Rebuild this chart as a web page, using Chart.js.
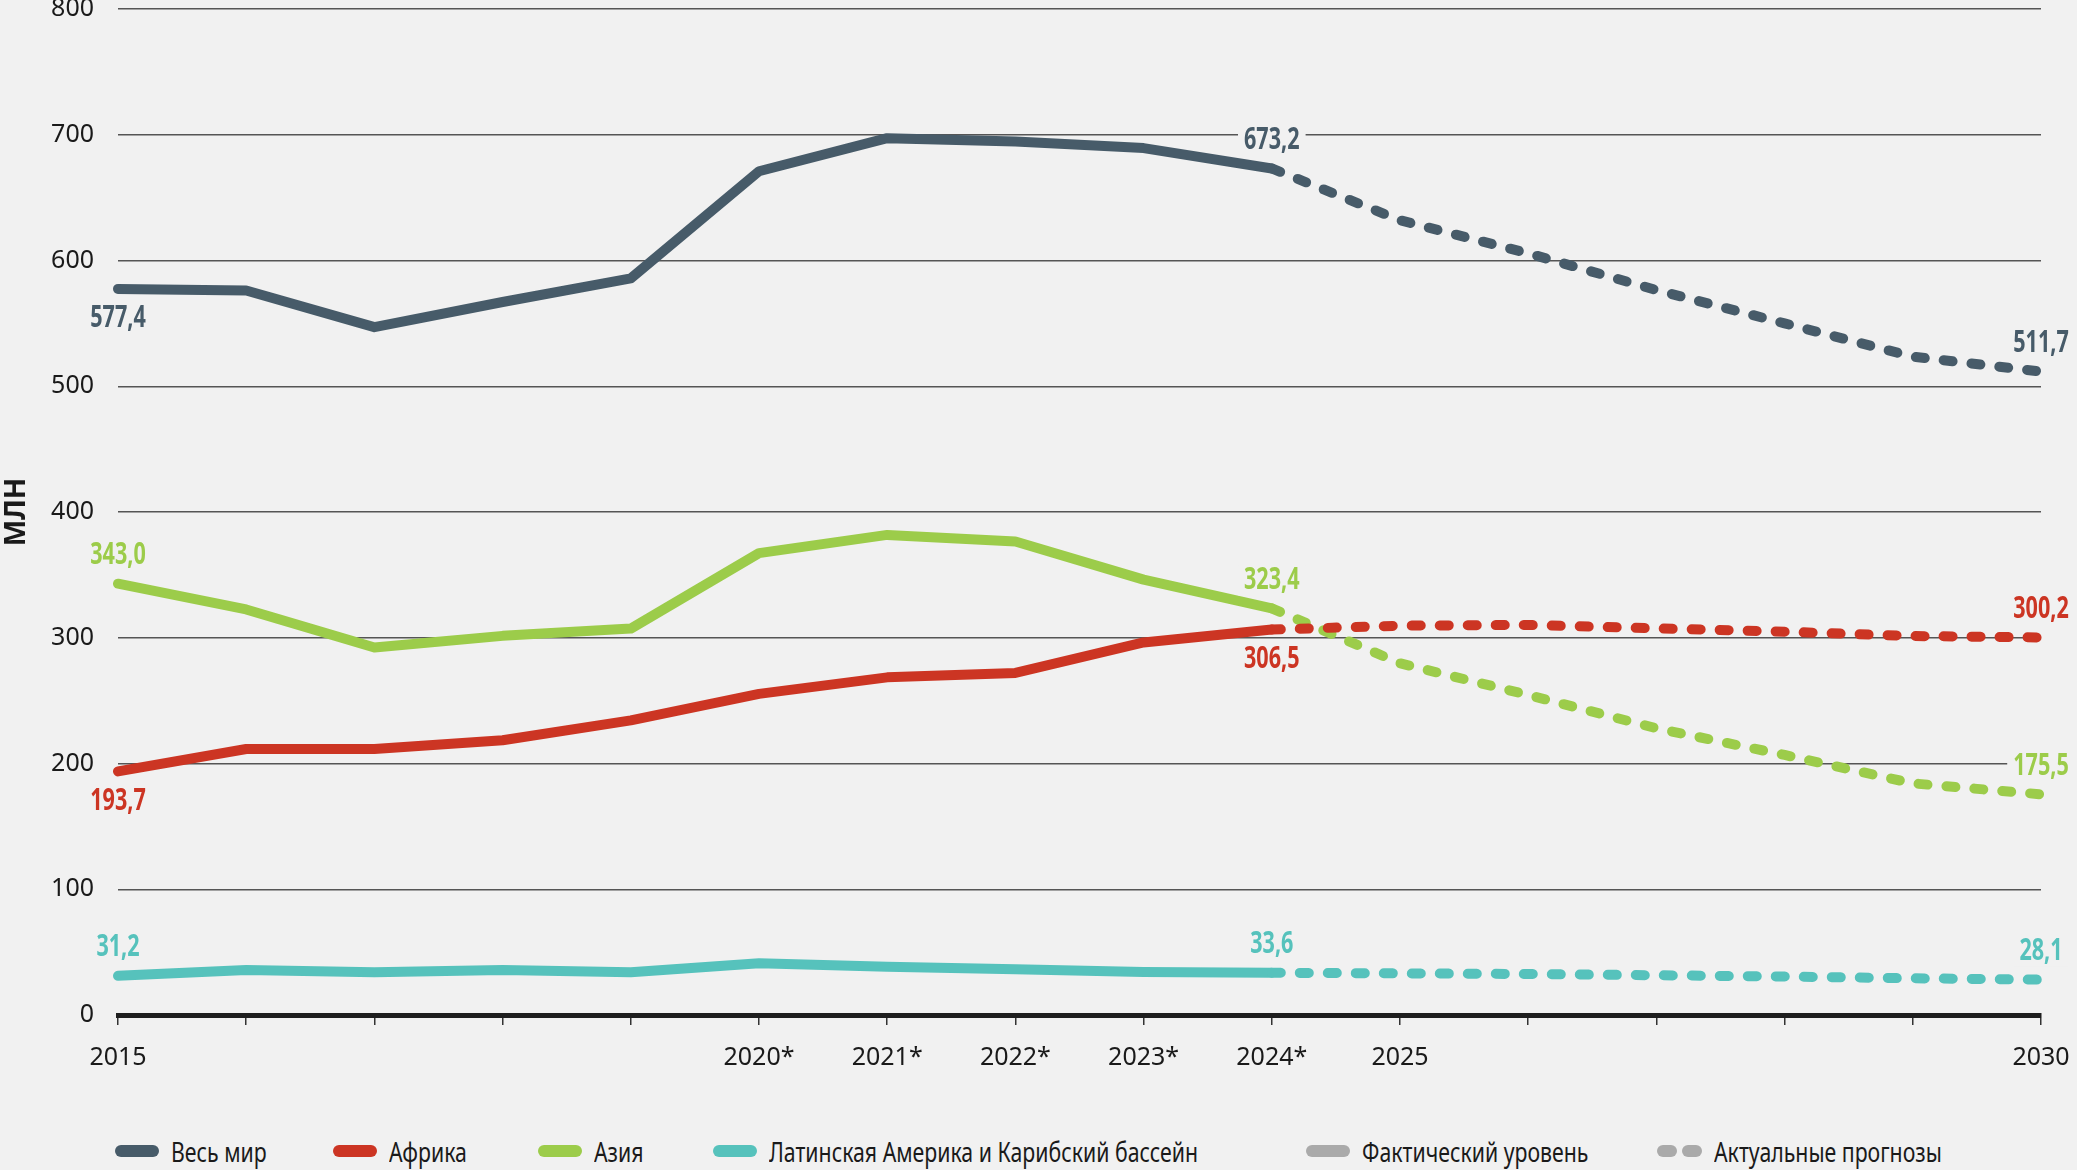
<!DOCTYPE html>
<html>
<head>
<meta charset="utf-8">
<script src="https://cdn.jsdelivr.net/npm/chart.js@4.4.1/dist/chart.umd.min.js"></script>
<style>
  html, body { margin: 0; padding: 0; background: #f1f1f1; }
  #wrap { position: relative; width: 2077px; height: 1170px; overflow: hidden; }
  #box { position: absolute; left: 0; top: 0; width: 2077px; height: 1100px; }
  .lg { position: absolute; top: 1134px; height: 34px; display: flex; align-items: center;
        font-family: 'Noto Sans', sans-serif; font-size: 28px; color: #1a1a1a; white-space: nowrap; }
  .lg b { font-weight: normal; display: inline-block; transform: scaleX(0.76); transform-origin: left center; }
  .sw { display: inline-block; width: 44px; height: 12px; border-radius: 6px; margin-right: 12px; }
  .dot { display: inline-block; width: 20px; height: 12px; border-radius: 6px; background: #aaaaaa; margin-right: 5px; }
</style>
</head>
<body>
<div id="wrap">
  <div id="box"><canvas id="lineChart"></canvas></div>
  <div class="lg" style="left:115px"><span class="sw" style="background:#475b69"></span><b>Весь мир</b></div>
  <div class="lg" style="left:333px"><span class="sw" style="background:#cc3523"></span><b>Африка</b></div>
  <div class="lg" style="left:538px"><span class="sw" style="background:#9ccc4a"></span><b>Азия</b></div>
  <div class="lg" style="left:713px"><span class="sw" style="background:#56c2bc"></span><b>Латинская Америка и Карибский бассейн</b></div>
  <div class="lg" style="left:1306px"><span class="sw" style="background:#aaaaaa"></span><b>Фактический уровень</b></div>
  <div class="lg" style="left:1657px"><span class="dot"></span><span class="dot" style="margin-right:12px"></span><b>Актуальные прогнозы</b></div>
</div>
<script>
// years on the x axis and the labels shown under them
const years = ['2015', '2016', '2017', '2018', '2019', '2020', '2021', '2022', '2023', '2024',
               '2025', '2026', '2027', '2028', '2029', '2030'];
const tickLabels = ['2015', '', '', '', '', '2020*', '2021*', '2022*', '2023*', '2024*',
                    '2025', '', '', '', '', '2030'];

// millions (2025+ are forecasts)
const world = [577.4, 576.1, 547.0, 567.0, 585.8, 671.0, 697.3, 694.6, 689.4, 673.2,
               632.0, 605.7, 576.5, 550.0, 523.5, 511.7];
const africa = [193.7, 211.5, 211.5, 218.5, 234.3, 255.4, 268.5, 272.0, 296.3, 306.5,
                309.6, 310.2, 307.5, 304.8, 301.4, 300.2];
const asia = [343.0, 322.5, 292.2, 301.5, 307.3, 367.3, 381.8, 376.5, 346.2, 323.4,
              279.7, 254.5, 228.0, 206.8, 184.2, 175.5];
const latam = [31.2, 35.8, 34.0, 35.8, 34.0, 41.1, 38.4, 36.3, 34.2, 33.6,
               33.1, 32.6, 31.6, 30.6, 29.2, 28.1];

const lastActual = 9; // 2024*
const labelIdx = [0, 9, 15];
const FONT = "'Noto Sans', sans-serif";

function series(label, data, color, spots) {
    return {
        label: label,
        data: data,
        borderColor: color,
        borderWidth: 10,
        borderCapStyle: 'round',
        borderJoinStyle: 'round',
        pointRadius: 0,
        tension: 0,
        fill: false,
        spots: spots,
        segment: {
            borderDash: ctx => ctx.p0DataIndex >= lastActual ? [9, 19] : undefined
        }
    };
}

// values written next to the first, 2024* and last points
const valueLabels = {
    id: 'valueLabels',
    afterDatasetsDraw(chart) {
        const ctx = chart.ctx;
        const sx = 0.72;
        ctx.save();
        ctx.font = 'bold 30px ' + FONT;
        ctx.textAlign = 'center';
        ctx.textBaseline = 'middle';
        chart.data.datasets.forEach((ds, di) => {
            const meta = chart.getDatasetMeta(di);
            labelIdx.forEach((idx, k) => {
                const pt = meta.data[idx];
                const spot = ds.spots[k];
                const txt = ds.data[idx].toFixed(1).replace('.', ',');
                const y = spot === 'below' ? pt.y + 30 : pt.y - 28;
                if (spot === 'above' && (idx === 9 || idx === 15)) {
                    const w = ctx.measureText(txt).width * sx;
                    ctx.fillStyle = '#f1f1f1';
                    ctx.fillRect(pt.x - w / 2 - 6, y - 15, w + 12, 30);
                }
                ctx.save();
                ctx.translate(pt.x, y);
                ctx.scale(sx, 1);
                ctx.fillStyle = ds.borderColor;
                ctx.fillText(txt, 0, 0);
                ctx.restore();
            });
        });
        ctx.restore();
    }
};

document.addEventListener('DOMContentLoaded', function() {
    const el = document.getElementById('lineChart');
    new Chart(el, {
        type: 'line',
        data: {
            labels: years,
            datasets: [
                series('Весь мир', world, '#475b69', ['below', 'above', 'above']),
                series('Африка', africa, '#cc3523', ['below', 'below', 'above']),
                series('Азия', asia, '#9ccc4a', ['above', 'above', 'above']),
                series('Латинская Америка и Карибский бассейн', latam, '#56c2bc', ['above', 'above', 'above'])
            ]
        },
        options: {
            responsive: true,
            maintainAspectRatio: false,
            animation: false,
            layout: { padding: { top: 9, right: 36, left: 0, bottom: 0 } },
            plugins: {
                legend: { display: false },
                tooltip: { enabled: false }
            },
            scales: {
                x: {
                    offset: false,
                    afterFit: s => { s.height = 85; s.paddingLeft = 0; s.paddingRight = 0; },
                    grid: { drawOnChartArea: false, drawTicks: true, tickLength: 10, color: '#333', lineWidth: 1.5 },
                    border: { display: true, color: '#1e1e1e', width: 5 },
                    ticks: {
                        autoSkip: false,
                        maxRotation: 0,
                        padding: 18,
                        color: '#1a1a1a',
                        font: { family: FONT, size: 25 },
                        callback: (v, i) => tickLabels[i]
                    }
                },
                y: {
                    min: 0,
                    max: 800,
                    afterFit: s => { s.width = 118; s.paddingTop = 0; s.paddingBottom = 0; },
                    grid: { drawTicks: false, color: ctx => ctx.tick.value === 0 ? 'rgba(0,0,0,0)' : '#555', lineWidth: 1.5 },
                    border: { display: false },
                    ticks: {
                        stepSize: 100,
                        padding: 24,
                        color: '#1a1a1a',
                        font: { family: FONT, size: 25 }
                    },
                    title: {
                        display: true,
                        text: 'МЛН',
                        color: '#1a1a1a',
                        padding: 0,
                        font: { family: FONT, size: 28, weight: 'bold' }
                    }
                }
            }
        },
        plugins: [valueLabels]
    });
});
</script>
</body>
</html>
